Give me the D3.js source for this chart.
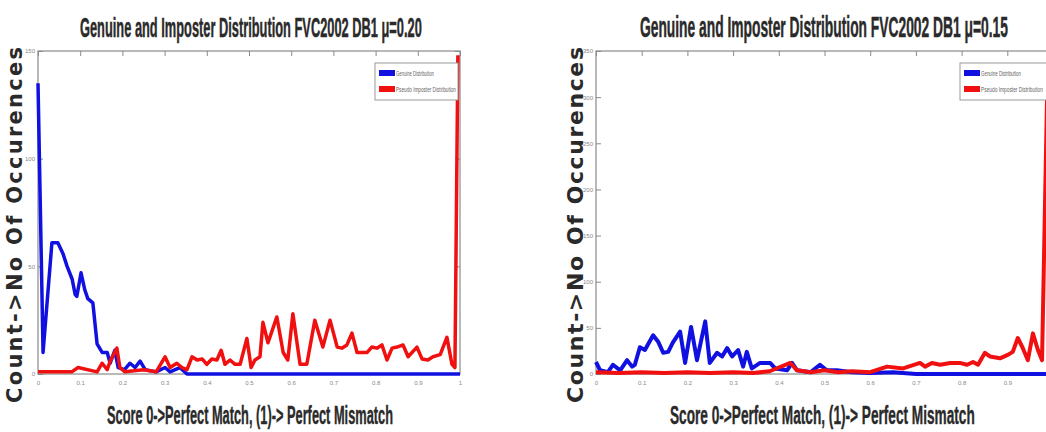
<!DOCTYPE html>
<html><head><meta charset="utf-8">
<script src="https://cdn.jsdelivr.net/npm/d3@7"></script>
<style>html,body{margin:0;padding:0;background:#fff;}svg{display:block;}</style>
</head><body>
<svg id="c" width="1046" height="432"></svg>
<script>
// ---- data (score, count) ----
const titles = ["Genuine and Imposter Distribution FVC2002 DB1 \u03bc=0.20",
                "Genuine and Imposter Distribution FVC2002 DB1 \u03bc=0.15"];
const xLabel = "Score 0->Perfect Match, (1)-> Perfect Mismatch";
const yLabel = "Count->No Of Occurences";
const legendLabels = ["Genuine Distribution", "Pseudo Imposter Distribution"];
const xTicksA = [0, 0.1, 0.2, 0.3, 0.4, 0.5, 0.6, 0.7, 0.8, 0.9, 1];
const xTicksB = [0, 0.1, 0.2, 0.3, 0.4, 0.5, 0.6, 0.7, 0.8, 0.9];
const yTicksA = [0, 50, 100, 150];
const yTicksB = [0, 50, 100, 150, 200, 250, 300, 350];

const genuineA = [[0,135],[0.012,10],[0.033,61],[0.047,61],[0.059,56],[0.069,50],[0.081,44],[0.088,37],[0.092,36],
  [0.102,47],[0.111,39],[0.118,35],[0.130,33],[0.140,14],[0.152,10],[0.164,10],[0.171,5],[0.182,11],[0.190,3],
  [0.205,2],[0.218,5],[0.230,3],[0.242,6],[0.254,2],[0.280,1],[0.301,3],[0.313,1],[0.336,3],[0.353,0],[1.0,0]];
const imposterA = [[0,1],[0.08,1],[0.095,3],[0.14,1],[0.152,5],[0.164,2],[0.171,6],[0.187,12],[0.194,3],[0.206,1],
  [0.25,2],[0.28,1],[0.301,8],[0.313,3],[0.329,5],[0.341,3],[0.353,2],[0.365,8],[0.377,6.5],[0.389,7],[0.400,4.5],
  [0.412,7],[0.424,6.5],[0.434,11],[0.443,4.5],[0.455,6.5],[0.467,4.5],[0.479,4.5],[0.495,16.5],[0.505,3],[0.514,6.5],
  [0.526,8],[0.533,24],[0.545,14.5],[0.566,26.5],[0.581,10],[0.592,6.5],[0.604,28],[0.621,4.5],[0.637,4.5],[0.656,25],
  [0.675,12.5],[0.692,25],[0.709,12.5],[0.720,12],[0.732,13.5],[0.744,19],[0.756,10],[0.768,10],[0.780,10],[0.791,12.5],
  [0.803,12],[0.815,13.5],[0.827,6.5],[0.839,12],[0.851,12.5],[0.865,13.5],[0.877,8],[0.898,12.5],[0.910,7],[0.924,6.5],
  [0.936,8],[0.953,9],[0.969,17],[0.981,4.5],[0.988,3],[0.995,148]];
const genuineB = [[0,13],[0.009,4],[0.026,2],[0.037,10],[0.053,4],[0.068,15],[0.079,8],[0.085,10],[0.096,29],[0.107,26],
  [0.125,42],[0.136,35],[0.147,23],[0.158,24],[0.168,34],[0.184,46],[0.195,12],[0.208,51],[0.221,15],[0.239,57],
  [0.249,12],[0.265,23],[0.276,19],[0.287,28],[0.298,19],[0.311,26],[0.322,8],[0.330,24],[0.341,6],[0.359,12],
  [0.381,12],[0.392,6],[0.418,4],[0.429,12],[0.440,4],[0.470,2],[0.490,10],[0.505,4],[0.527,4],[0.56,2],[0.60,1],
  [0.65,2],[0.70,0],[1.0,0]];
const imposterB = [[0,2],[0.05,1],[0.10,2],[0.15,1],[0.20,2],[0.25,1],[0.30,2],[0.344,1],[0.38,3],[0.425,12],[0.440,4],
  [0.47,2],[0.50,4],[0.53,2],[0.56,3],[0.60,2],[0.637,8],[0.672,6],[0.709,12],[0.720,8],[0.735,12],[0.753,10],[0.775,12],
  [0.796,12],[0.812,10],[0.825,13],[0.836,10],[0.851,23],[0.862,19],[0.884,17],[0.902,21],[0.912,24],[0.923,39],
  [0.934,28],[0.945,15],[0.956,44],[0.967,26],[0.976,15],[0.987,300]];

const svg = d3.select("#c");
const narrow = "Liberation Sans Narrow, Liberation Sans, Arial Narrow, sans-serif";

// place text horizontally scaled to an exact width (x is the left edge)
function fitText(parent, str, x, y, width, fs, opts) {
  const t = parent.append("text").attr("font-family", opts.family || narrow)
    .attr("font-weight", opts.weight || "normal").attr("font-size", fs)
    .attr("fill", opts.fill || "#2a2a2a").text(str);
  if (opts.stroke) t.attr("stroke", opts.fill || "#2a2a2a").attr("stroke-width", opts.stroke);
  const w = t.node().getComputedTextLength();
  t.attr("transform", `translate(${x},${y}) scale(${width / w},1)`);
  return t;
}

function chart(cfg) {
  const x = d3.scaleLinear().domain([0, 1]).range([cfg.x0, cfg.x1]);
  const y = d3.scaleLinear().domain([0, cfg.ymax]).range([cfg.y1, cfg.y0]);
  const g = svg.append("g");
  const axisCol = "#8a8a8a";

  g.append("rect").attr("x", cfg.x0).attr("y", cfg.y0)
    .attr("width", cfg.x1 - cfg.x0).attr("height", cfg.y1 - cfg.y0)
    .attr("fill", "none").attr("stroke", axisCol).attr("stroke-width", 1.2);

  const bx = g.append("g").attr("transform", `translate(0,${cfg.y1})`)
    .call(d3.axisBottom(x).tickValues(cfg.xTicks).tickSize(0).tickPadding(7)
      .tickFormat(d => d === 0 ? "0" : d === 1 ? "1" : d3.format(".1f")(d)));
  bx.select(".domain").remove();
  bx.selectAll("text").attr("font-size", cfg.tickFs).attr("fill", "#888").attr("font-family", narrow);

  const tx = g.append("g").attr("transform", `translate(0,${cfg.y0})`)
    .call(d3.axisBottom(x).tickValues(cfg.xTicks).tickSize(5).tickFormat(""));
  tx.select(".domain").remove();
  tx.selectAll("line").attr("stroke", axisCol);

  const ly = g.append("g").attr("transform", `translate(${cfg.x0},0)`)
    .call(d3.axisLeft(y).tickValues(cfg.yTicks).tickSize(0).tickPadding(3));
  ly.select(".domain").remove();
  ly.selectAll("text").attr("font-size", cfg.tickFs).attr("fill", "#888").attr("font-family", narrow);
  const lt = g.append("g").attr("transform", `translate(${cfg.x0},0)`)
    .call(d3.axisRight(y).tickValues(cfg.yTicks).tickSize(5).tickFormat(""));
  lt.select(".domain").remove();
  lt.selectAll("line").attr("stroke", axisCol);
  const rt = g.append("g").attr("transform", `translate(${cfg.x1},0)`)
    .call(d3.axisLeft(y).tickValues(cfg.yTicks).tickSize(5).tickFormat(""));
  rt.select(".domain").remove();
  rt.selectAll("line").attr("stroke", axisCol);

  const line = d3.line().x(d => x(d[0])).y(d => y(d[1]));
  g.append("path").datum(cfg.gen).attr("d", line).attr("fill", "none")
    .attr("stroke", "#1010e0").attr("stroke-width", cfg.lw).attr("stroke-linejoin", "round");
  g.append("path").datum(cfg.imp).attr("d", line).attr("fill", "none")
    .attr("stroke", "#f01010").attr("stroke-width", cfg.lw).attr("stroke-linejoin", "round");

  const lg = g.append("g");
  lg.append("rect").attr("x", cfg.lgx).attr("y", cfg.lgy).attr("width", cfg.lgw).attr("height", 37)
    .attr("fill", "#fff").attr("stroke", "#999").attr("stroke-width", 1);
  [["#1010e0", legendLabels[0], cfg.lt1], ["#f01010", legendLabels[1], cfg.lt2]].forEach((it, i) => {
    const yy = cfg.lgy + 10 + i * 16;
    lg.append("rect").attr("x", cfg.lgx + 4).attr("y", yy - 3).attr("width", 16).attr("height", 6).attr("fill", it[0]);
    fitText(lg, it[1], cfg.lgx + 21, yy + 2.5, it[2], 6.5, {fill: "#666"});
  });

  fitText(g, cfg.title, cfg.tx, 37, cfg.tw, cfg.titleFs, {weight: "bold", stroke: 0.5});
  fitText(g, xLabel, cfg.xlx, 424, cfg.xlw, cfg.xlFs, {weight: "bold", stroke: 0.4});
  g.append("text").attr("transform", `translate(${cfg.ylx},225) rotate(-90)`).attr("text-anchor", "middle")
    .attr("font-family", "DejaVu Sans, Verdana, sans-serif").attr("font-weight", "bold")
    .attr("font-size", cfg.ylFs).attr("fill", "#2a2a2a")
    .attr("textLength", 356).attr("lengthAdjust", "spacing").text(yLabel);
}

chart({x0: 38, x1: 460, y0: 51, y1: 374, ymax: 150, xTicks: xTicksA, yTicks: yTicksA, gen: genuineA, imp: imposterA,
  lw: 3.5, tickFs: 6, lgx: 375, lgy: 63, lgw: 83, lt1: 38, lt2: 60, title: titles[0], tx: 80, tw: 342, titleFs: 28,
  xlx: 107, xlw: 286, xlFs: 25, ylx: 22, ylFs: 21});
chart({x0: 596, x1: 1053, y0: 51, y1: 374, ymax: 350, xTicks: xTicksB, yTicks: yTicksB, gen: genuineB, imp: imposterB,
  lw: 4, tickFs: 6, lgx: 960, lgy: 63, lgw: 95, lt1: 40, lt2: 62, title: titles[1], tx: 640, tw: 368, titleFs: 30,
  xlx: 670, xlw: 305, xlFs: 26, ylx: 583, ylFs: 22});
</script>
</body></html>
